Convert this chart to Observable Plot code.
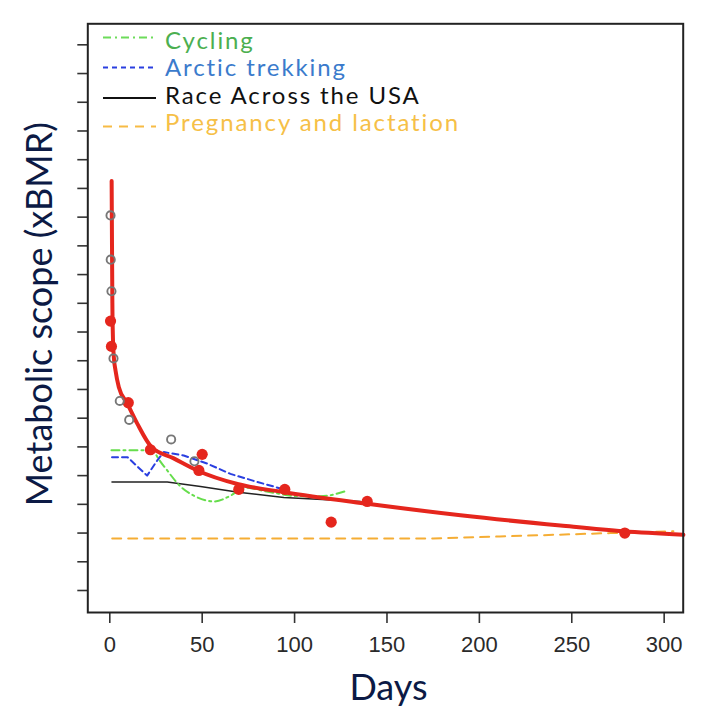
<!DOCTYPE html>
<html><head><meta charset="utf-8">
<script src="https://cdn.jsdelivr.net/npm/d3@7"></script>
<script src="https://cdn.jsdelivr.net/npm/@observablehq/plot@0.6"></script>
<style>
html,body{margin:0;padding:0;background:#fff;}
#wrap{position:relative;width:702px;height:728px;}
#legend{position:absolute;left:0;top:0;pointer-events:none;}
</style></head><body><div id="wrap"></div>
<script>
// ---- data ----
const xTicks = [0, 50, 100, 150, 200, 250, 300];
const yTicks = [1, 1.5, 2, 2.5, 3, 3.5, 4, 4.5, 5, 5.5, 6, 6.5, 7, 7.5, 8, 8.5, 9, 9.5, 10, 10.5];

const fitDays  = [1.0, 1.2, 1.4, 1.7, 2.2, 3.1, 4.9, 9.4, 14.8, 22.5, 34.6, 47.3, 69.6, 94.5, 139.4, 189.8, 243.9, 278, 310.4];
const fitScope = [8.13, 7.0, 6.0, 5.4, 5.06, 4.83, 4.54, 4.26, 3.91, 3.50, 3.30, 3.09, 2.85, 2.71, 2.51, 2.31, 2.13, 2.03, 1.97];

const cycDays  = [0.9, 23.8, 25.3, 31.1, 38.3, 45.5, 56.3, 65.3, 72.5, 87, 103.2, 114, 128.6];
const cycScope = [3.44, 3.44, 3.35, 3.09, 2.81, 2.65, 2.55, 2.65, 2.79, 2.71, 2.64, 2.64, 2.74];

const arcDays  = [1.2, 9.6, 20.2, 25.6, 29.2, 40, 52.7, 65.3, 79.8, 94.2];
const arcScope = [3.32, 3.32, 3.00, 3.26, 3.41, 3.35, 3.21, 3.03, 2.89, 2.76];

const rausaDays  = [1.2, 31.1, 49.1, 69.6, 94.2, 117.6, 135.7];
const rausaScope = [2.89, 2.89, 2.81, 2.71, 2.62, 2.58, 2.55];

const pregDays  = [1.3, 175, 211, 271, 305];
const pregScope = [1.905, 1.905, 1.94, 2.00, 2.03];

const openDays  = [0.4, 0.5, 0.9, 2.0, 5.4, 10.5, 33.2, 45.8];
const openScope = [7.53, 6.76, 6.21, 5.04, 4.30, 3.97, 3.63, 3.25];

const filledDays  = [0.4, 0.9, 10, 22, 50, 48.2, 69.8, 94.7, 139.3, 119.8, 278.7];
const filledScope = [5.69, 5.25, 4.27, 3.45, 3.37, 3.09, 2.76, 2.76, 2.55, 2.19, 2.00];

const legendLabels = ["Cycling", "Arctic trekking", "Race Across the USA", "Pregnancy and lactation"];
const legendTextColors = ["#4caf50", "#3b7bcc", "#111111", "#f6c047"];
const legendLineColors = ["#6ddc5a", "#2a3fe0", "#111111", "#f7bb45"];
const legendDash = ["8,4,2,4", "5,4", null, "9,7"];

// ---- build ----
const pts = (xs, ys) => xs.map((d, i) => ({x: d, y: ys[i]}));
const titleFont = "Lato, 'Noto Sans', sans-serif";

const chart = Plot.plot({
  width: 702,
  height: 728,
  marginLeft: 87.3,
  marginRight: 19.3,
  marginTop: 23.3,
  marginBottom: 116,
  style: {background: "#fff", fontFamily: "'Liberation Sans', Arial, sans-serif"},
  x: {domain: [-11.9, 310.3], axis: null},
  y: {domain: [0.617, 10.866], axis: null},
  marks: [
    Plot.axisX({ticks: xTicks, tickSize: 11, tickPadding: 13, fontSize: 22, stroke: "#333", strokeWidth: 1.6, fill: "#2a2a2a", label: null}),
    Plot.axisY({ticks: yTicks, tickSize: 10, tickFormat: () => "", stroke: "#333", strokeWidth: 1.6, label: null}),
    Plot.line(pts(pregDays, pregScope), {x: "x", y: "y", stroke: "#f5ad34", strokeWidth: 2, strokeDasharray: "9,7"}),
    Plot.line(pts(rausaDays, rausaScope), {x: "x", y: "y", stroke: "#222", strokeWidth: 1.6}),
    Plot.line(pts(cycDays, cycScope), {x: "x", y: "y", stroke: "#66dd4c", strokeWidth: 2, strokeDasharray: "8,4,2,4", curve: "monotone-x"}),
    Plot.line(pts(arcDays, arcScope), {x: "x", y: "y", stroke: "#2a3fe0", strokeWidth: 2, strokeDasharray: "6,4"}),
    Plot.line(pts(fitDays, fitScope), {x: "x", y: "y", stroke: "#e5261d", strokeWidth: 4, curve: "monotone-x"}),
    Plot.dot(pts(filledDays, filledScope), {x: "x", y: "y", r: 5.6, fill: "#e5261d", stroke: "none"}),
    Plot.dot(pts(openDays, openScope), {x: "x", y: "y", r: 4.1, fill: "none", stroke: "#777", strokeWidth: 1.9}),
    Plot.frame({stroke: "#222", strokeWidth: 2}),
    Plot.text(["Days"], {frameAnchor: "bottom", textAnchor: "middle", lineAnchor: "middle", dx: 3, dy: 76, fontSize: 36, letterSpacing: 1, fill: "#0c1a45", fontFamily: titleFont}),
    Plot.text(["Metabolic scope (xBMR)"], {frameAnchor: "left", textAnchor: "middle", lineAnchor: "middle", rotate: -90, dx: -47, dy: -4, fontSize: 36, letterSpacing: 1.6, fill: "#0c1a45", fontFamily: titleFont})
  ]
});
document.getElementById("wrap").appendChild(chart);

// legend overlay (inside the frame, top-left)
const lineY = [37.5, 67.5, 98, 126.5];
const baseY = [48.5, 75.5, 103.5, 131];
const leg = d3.select("#wrap").append("svg").attr("id", "legend").attr("width", 702).attr("height", 160);
legendLabels.forEach((lab, i) => {
  leg.append("line").attr("x1", 103).attr("x2", 156).attr("y1", lineY[i]).attr("y2", lineY[i])
    .attr("stroke", legendLineColors[i]).attr("stroke-width", 1.8)
    .attr("stroke-dasharray", legendDash[i]);
  leg.append("text").attr("x", 165).attr("y", baseY[i]).text(lab)
    .attr("fill", legendTextColors[i]).attr("font-size", 24)
    .attr("letter-spacing", 1.9)
    .attr("font-family", titleFont);
});
</script></body></html>
